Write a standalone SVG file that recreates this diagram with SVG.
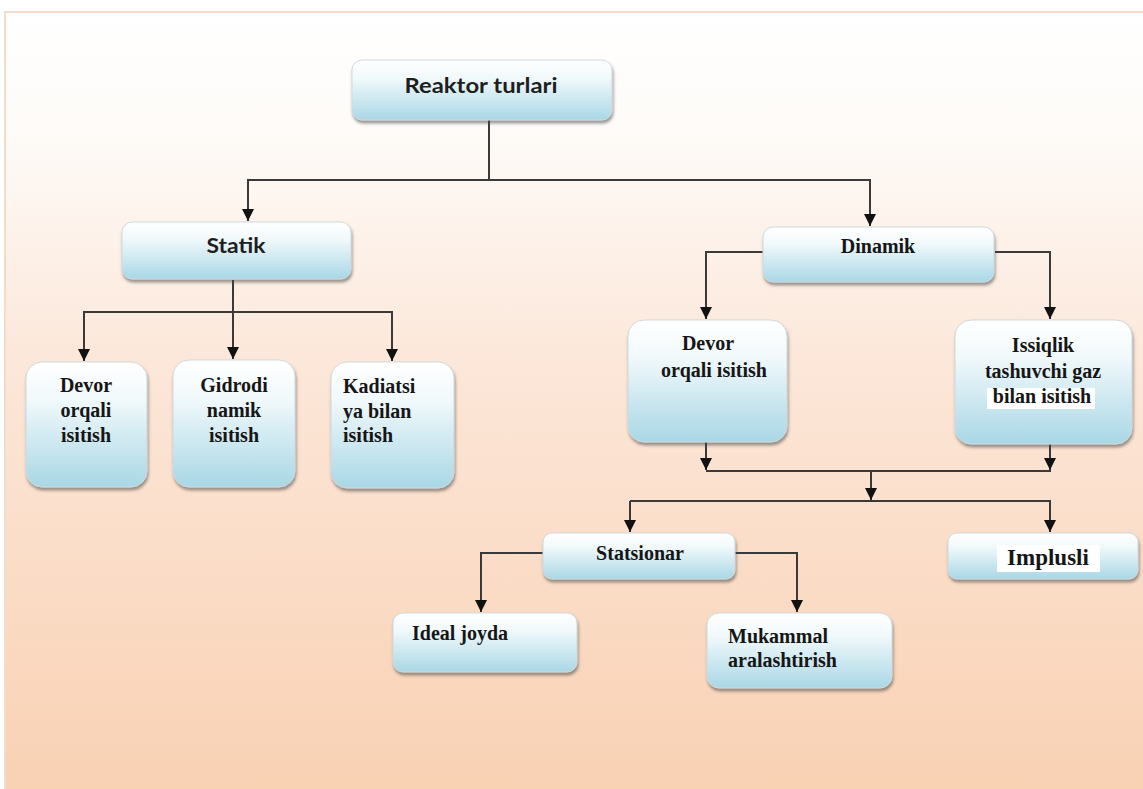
<svg xmlns="http://www.w3.org/2000/svg" width="1143" height="789" viewBox="0 0 1143 789">
<defs>
<linearGradient id="bg" x1="0" y1="0" x2="0" y2="1">
<stop offset="0" stop-color="#ffffff"/>
<stop offset="0.15" stop-color="#fefbf8"/>
<stop offset="0.45" stop-color="#fce7d9"/>
<stop offset="1" stop-color="#f9d1b3"/>
</linearGradient>
<linearGradient id="node" x1="0" y1="0" x2="0" y2="1">
<stop offset="0" stop-color="#ffffff"/>
<stop offset="0.3" stop-color="#f1f9fb"/>
<stop offset="1" stop-color="#a9d7e6"/>
</linearGradient>
<filter id="sh" x="-10%" y="-10%" width="125%" height="130%">
<feDropShadow dx="1" dy="3" stdDeviation="1.8" flood-color="#4a4a4a" flood-opacity="0.55"/>
</filter>
<marker id="ah" viewBox="0 0 10 10" refX="10" refY="5" markerWidth="12" markerHeight="12" markerUnits="userSpaceOnUse" orient="auto">
<path d="M0,0 L10,5 L0,10 z" fill="#111"/>
</marker>
</defs>
<style>
.box{fill:url(#node);stroke:#cfd9dd;stroke-width:1;filter:url(#sh)}
.sans{font-family:Lato,"Open Sans","Liberation Sans",sans-serif;font-weight:bold;font-size:20px;fill:#1e1e1e;text-anchor:middle}
.serif{font-family:"Liberation Serif","DejaVu Serif",serif;font-weight:bold;font-size:20px;fill:#161616;text-anchor:middle}
.left{text-anchor:start}
.conn path{fill:none;stroke:#3a3a3a;stroke-width:2}
.hl{fill:#ffffff}
</style>
<rect x="0" y="0" width="1143" height="789" fill="#ffffff"/>
<rect x="5" y="12" width="1140" height="780" fill="url(#bg)" stroke="#f3dccb" stroke-width="2"/>

<g id="connectors" class="conn">
<path d="M489,120 V180"/>
<path d="M489,180 H248 V221" marker-end="url(#ah)"/>
<path d="M489,180 H870 V226" marker-end="url(#ah)"/>
<path d="M233,280 V312"/>
<path d="M233,312 H84 V361" marker-end="url(#ah)"/>
<path d="M233,312 V359" marker-end="url(#ah)"/>
<path d="M233,312 H392 V361" marker-end="url(#ah)"/>
<path d="M763,252 H706 V319" marker-end="url(#ah)"/>
<path d="M995,252 H1050 V319" marker-end="url(#ah)"/>
<path d="M706,442 V470" marker-end="url(#ah)"/>
<path d="M1050,444 V470" marker-end="url(#ah)"/>
<path d="M706,471 H1051"/>
<path d="M871,471 V500" marker-end="url(#ah)"/>
<path d="M630,501 H1051"/>
<path d="M630,501 V532" marker-end="url(#ah)"/>
<path d="M1050,501 V532" marker-end="url(#ah)"/>
<path d="M543,553 H481 V612" marker-end="url(#ah)"/>
<path d="M735,553 H797 V612" marker-end="url(#ah)"/>
</g>

<g id="n-reaktor">
<rect class="box" x="352" y="60" width="260" height="60" rx="10"/>
<text class="sans" x="481" y="93" textLength="153" lengthAdjust="spacingAndGlyphs">Reaktor turlari</text>
</g>
<g id="n-statik">
<rect class="box" x="122" y="222" width="229" height="57" rx="10"/>
<text class="sans" x="236" y="253" textLength="59" lengthAdjust="spacingAndGlyphs">Statik</text>
</g>
<g id="n-dinamik">
<rect class="box" x="763" y="227" width="231" height="55" rx="10"/>
<text class="serif" x="878" y="253">Dinamik</text>
</g>
<g id="n-devor1">
<rect class="box" x="26" y="362" width="121" height="125" rx="16"/>
<text class="serif" x="86" y="392">Devor</text>
<text class="serif" x="86" y="417">orqali</text>
<text class="serif" x="86" y="442">isitish</text>
</g>
<g id="n-gidro">
<rect class="box" x="173" y="360" width="122" height="127" rx="16"/>
<text class="serif" x="234" y="392">Gidrodi</text>
<text class="serif" x="234" y="417">namik</text>
<text class="serif" x="234" y="442">isitish</text>
</g>
<g id="n-kadiatsi">
<rect class="box" x="331" y="362" width="123" height="126" rx="16"/>
<text class="serif left" x="343" y="393">Kadiatsi</text>
<text class="serif left" x="343" y="418">ya bilan</text>
<text class="serif left" x="343" y="442">isitish</text>
</g>
<g id="n-devor2">
<rect class="box" x="628" y="320" width="159" height="122" rx="16"/>
<text class="serif" x="708" y="350">Devor</text>
<text class="serif" x="714" y="377">orqali isitish</text>
</g>
<g id="n-issiqlik">
<rect class="box" x="955" y="320" width="177" height="124" rx="16"/>
<text class="serif" x="1043" y="352">Issiqlik</text>
<text class="serif" x="1043" y="378">tashuvchi gaz</text>
<rect class="hl" x="987" y="388" width="108" height="21"/>
<text class="serif" x="1042" y="403">bilan isitish</text>
</g>
<g id="n-statsionar">
<rect class="box" x="543" y="533" width="192" height="46" rx="9"/>
<text class="serif" x="640" y="560">Statsionar</text>
</g>
<g id="n-implusli">
<rect class="box" x="948" y="533" width="190" height="46" rx="9"/>
<rect class="hl" x="997" y="545" width="103" height="27"/>
<text class="serif" x="1048" y="565" style="font-size:23px">Implusli</text>
</g>
<g id="n-ideal">
<rect class="box" x="393" y="613" width="184" height="59" rx="10"/>
<text class="serif left" x="412" y="640">Ideal joyda</text>
</g>
<g id="n-mukammal">
<rect class="box" x="707" y="613" width="185" height="75" rx="12"/>
<text class="serif left" x="728" y="643">Mukammal</text>
<text class="serif left" x="728" y="667">aralashtirish</text>
</g>
</svg>
